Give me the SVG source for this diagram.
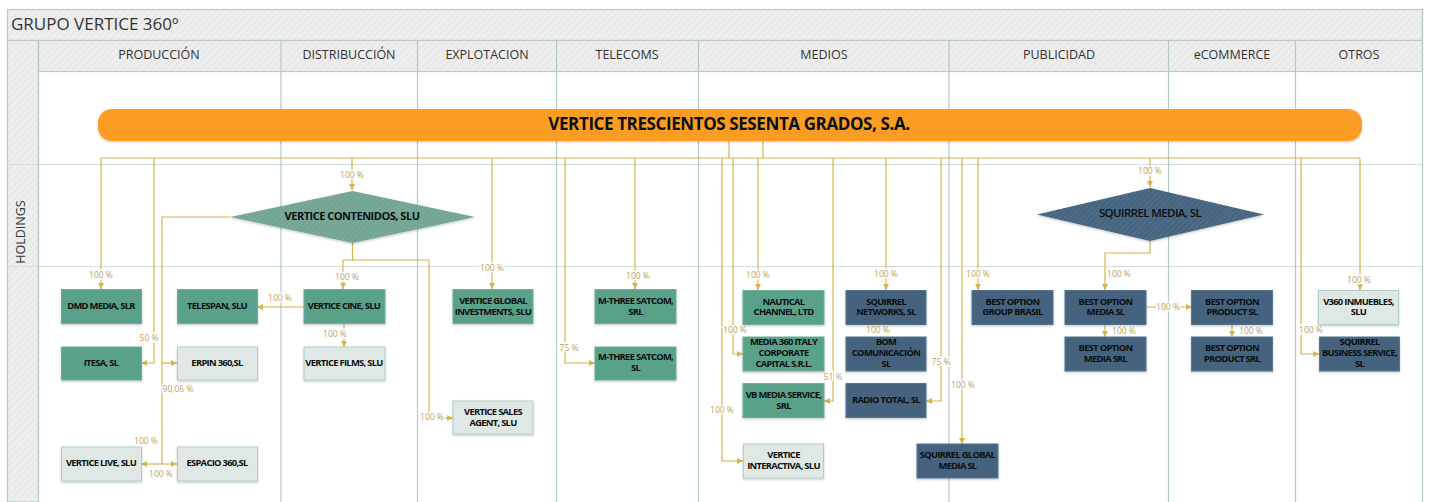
<svg xmlns="http://www.w3.org/2000/svg" width="1429" height="502" viewBox="0 0 1429 502">
<style>
text{font-family:"Open Sans","Noto Sans","Liberation Sans",sans-serif;text-anchor:middle}
.band{fill:url(#hatch);stroke:#b9cbc7;stroke-width:1.2}
.grid{stroke:#b4c8c4;stroke-width:1.2;fill:none}
.gridl{stroke:#d3dfdc;stroke-width:1.2;fill:none}
.head{font-size:12.5px;fill:#333}
.c{fill:none;stroke:#d4b44e;stroke-width:1.2}
.a{fill:none;stroke:#d4b44e;stroke-width:1.2;marker-end:url(#arr)}
.p{font-size:8.5px;fill:#b9a35c;stroke:#fff;stroke-width:3;paint-order:stroke}
.n{stroke-width:1;filter:url(#sh)}
.g{fill:#5aa18a;stroke:#6fae9a}
.b{fill:#44647f;stroke:#57748d}
.l{fill:#dfe8e4;stroke:#aed0c4}
.t{font-size:9.4px;font-weight:700;fill:#0a0f10;letter-spacing:-.7px}
</style>
<defs>
<pattern id="hatch" width="5" height="5" patternUnits="userSpaceOnUse" patternTransform="rotate(45)"><rect width="5" height="5" fill="#eeeeee"/><rect width="1.5" height="5" fill="#e6e6e6"/></pattern>
<pattern id="hg" width="4" height="4" patternUnits="userSpaceOnUse" patternTransform="rotate(45)"><rect width="4" height="4" fill="#7aa998"/><rect width="1.5" height="4" fill="#6fa391"/></pattern>
<pattern id="hb" width="4" height="4" patternUnits="userSpaceOnUse" patternTransform="rotate(45)"><rect width="4" height="4" fill="#4d6c87"/><rect width="1.5" height="4" fill="#44627c"/></pattern>
<marker id="arr" markerWidth="7" markerHeight="7" refX="6" refY="3" orient="auto" markerUnits="userSpaceOnUse"><path d="M0 0L6 3L0 6Z" fill="#d4b44e"/></marker>
<filter id="sh" x="-10%" y="-10%" width="120%" height="125%"><feDropShadow dx="0" dy="1.2" stdDeviation="1" flood-color="#000" flood-opacity=".22"/></filter>
</defs>
<rect width="1429" height="502" fill="#fff"/>
<g id="lanes">
<rect class="band" x="7.500" y="9.500" width="1415" height="31"/>
<rect class="band" x="7.500" y="40.500" width="31" height="461.500"/>
<rect class="band" x="38.500" y="40.500" width="1384" height="31"/>
<path class="gridl" d="M7.500 164.500H1423M7.500 266.500H1423"/>
<path class="grid" d="M38.500 40V502M281 40V502M417.500 40V502M556.500 40V502M698.500 40V502M949 40V502M1168.500 40V502M1295.500 40V502M1422.500 9V502"/>
<text x="11" y="30" style="font-size:17px;text-anchor:start;fill:#333">GRUPO VERTICE 360º</text>
<text class="head" x="159" y="59">PRODUCCIÓN</text>
<text class="head" x="349" y="59">DISTRIBUCCIÓN</text>
<text class="head" x="487" y="59">EXPLOTACION</text>
<text class="head" x="627" y="59">TELECOMS</text>
<text class="head" x="824" y="59">MEDIOS</text>
<text class="head" x="1059" y="59">PUBLICIDAD</text>
<text class="head" x="1232" y="59">eCOMMERCE</text>
<text class="head" x="1359" y="59">OTROS</text>
<text class="head" transform="translate(25 232) rotate(-90)">HOLDINGS</text>
</g>
<g id="connectors">
<path class="c" d="M101 158H1360M729 141V158M763 141V158"/>
<path class="a" d="M101 158V289"/>
<path class="a" d="M154 158V363H141"/>
<path class="c" d="M230 217H162V464"/>
<path class="a" d="M162 363H177"/>
<path class="a" d="M162 464H141"/>
<path class="a" d="M162 464H177"/>
<path class="a" d="M352 158V190"/>
<path class="c" d="M352.500 243V260H343"/>
<path class="a" d="M343 260V289"/>
<path class="a" d="M352.500 260H429V418H453"/>
<path class="a" d="M304 307H257"/>
<path class="a" d="M344 324V347"/>
<path class="a" d="M492 158V289"/>
<path class="a" d="M565 158V363H595"/>
<path class="a" d="M635 158V289"/>
<path class="a" d="M722 158V461H743"/>
<path class="a" d="M733 158V354H743"/>
<path class="a" d="M758 158V290"/>
<path class="a" d="M833 158V401H824"/>
<path class="a" d="M886 158V290"/>
<path class="a" d="M941 158V401H926"/>
<path class="a" d="M962 158V444"/>
<path class="a" d="M978 158V290"/>
<path class="a" d="M1150 158V187"/>
<path class="a" d="M1150 241V253H1105V290"/>
<path class="a" d="M1146 307H1192"/>
<path class="a" d="M1105 325V337"/>
<path class="a" d="M1232 325V337"/>
<path class="a" d="M1301 158V354H1319"/>
<path class="a" d="M1360 158V290"/>
<text class="p" x="101" y="278">100 %</text>
<text class="p" x="149" y="341">50 %</text>
<text class="p" x="178" y="392">90,06 %</text>
<text class="p" x="146" y="444">100 %</text>
<text class="p" x="161" y="477">100 %</text>
<text class="p" x="352" y="178">100 %</text>
<text class="p" x="347" y="280">100 %</text>
<text class="p" x="432" y="420">100 %</text>
<text class="p" x="280" y="301">100 %</text>
<text class="p" x="335" y="337">100 %</text>
<text class="p" x="492" y="271">100 %</text>
<text class="p" x="569" y="351">75 %</text>
<text class="p" x="638" y="279">100 %</text>
<text class="p" x="722" y="413">100 %</text>
<text class="p" x="735" y="333">100 %</text>
<text class="p" x="758" y="278">100 %</text>
<text class="p" x="833" y="380">51 %</text>
<text class="p" x="886" y="277">100 %</text>
<text class="p" x="878" y="333">100 %</text>
<text class="p" x="941" y="365">75 %</text>
<text class="p" x="963" y="388">100 %</text>
<text class="p" x="978" y="277">100 %</text>
<text class="p" x="1150" y="174">100 %</text>
<text class="p" x="1119" y="277">100 %</text>
<text class="p" x="1168" y="310">100 %</text>
<text class="p" x="1124" y="334">100 %</text>
<text class="p" x="1251" y="334">100 %</text>
<text class="p" x="1311" y="333">100 %</text>
<text class="p" x="1359" y="283">100 %</text>
</g>
<g id="n-vertice360"><rect x="98" y="109" width="1264" height="32" rx="14" fill="#fb9d20" filter="url(#sh)"/><text x="729" y="130" style="font-size:17px;font-weight:700;letter-spacing:-.4px;fill:#0a0f10">VERTICE TRESCIENTOS SESENTA GRADOS, S.A.</text></g>
<g id="n-contenidos"><path d="M230 217L352.500 191L475 217L352.500 243Z" fill="url(#hg)" filter="url(#sh)"/><text class="t" x="352" y="220" style="font-size:11px;letter-spacing:-.48px">VERTICE CONTENIDOS, SLU</text></g>
<g id="n-squirrel"><path d="M1037 214.500L1150 188L1264 214.500L1150 241Z" fill="url(#hb)" filter="url(#sh)"/><text class="t" x="1150" y="217" style="font-size:11.500px;font-weight:600;letter-spacing:-.6px">SQUIRREL MEDIA, SL</text></g>
<g id="n-dmd"><rect class="n g" x="61.500" y="289.500" width="80" height="34"/><text class="t" x="101" y="309">DMD MEDIA, SLR</text></g>
<g id="n-telespan"><rect class="n g" x="177.500" y="289.500" width="80" height="34"/><text class="t" x="217" y="309">TELESPAN, SLU</text></g>
<g id="n-itesa"><rect class="n g" x="61.500" y="347" width="80" height="33"/><text class="t" x="101" y="366">ITESA, SL</text></g>
<g id="n-erpin"><rect class="n l" x="177.500" y="347" width="80" height="33"/><text class="t" x="217" y="366">ERPIN 360,SL</text></g>
<g id="n-live"><rect class="n l" x="61.500" y="447" width="80" height="34"/><text class="t" x="101" y="466">VERTICE LIVE, SLU</text></g>
<g id="n-espacio"><rect class="n l" x="177.500" y="447" width="80" height="34"/><text class="t" x="217" y="466">ESPACIO 360,SL</text></g>
<g id="n-cine"><rect class="n g" x="304" y="289.500" width="81" height="34"/><text class="t" x="344" y="309">VERTICE CINE, SLU</text></g>
<g id="n-films"><rect class="n l" x="304" y="347" width="81" height="33"/><text class="t" x="344" y="366">VERTICE FILMS, SLU</text></g>
<g id="n-global"><rect class="n g" x="453" y="289.500" width="80" height="34"/><text class="t" x="493" y="304">VERTICE GLOBAL</text><text class="t" x="493" y="315">INVESTMENTS, SLU</text></g>
<g id="n-sales"><rect class="n l" x="453" y="401" width="80" height="33"/><text class="t" x="493" y="415">VERTICE SALES</text><text class="t" x="493" y="426">AGENT, SLU</text></g>
<g id="n-m3srl"><rect class="n g" x="595" y="289.500" width="81" height="34"/><text class="t" x="635.500" y="304">M-THREE SATCOM,</text><text class="t" x="635.500" y="315">SRL</text></g>
<g id="n-m3sl"><rect class="n g" x="595" y="347" width="81" height="33"/><text class="t" x="635.500" y="360">M-THREE SATCOM,</text><text class="t" x="635.500" y="371">SL</text></g>
<g id="n-nautical"><rect class="n g" x="743" y="290.500" width="81" height="34"/><text class="t" x="783.500" y="304.500">NAUTICAL</text><text class="t" x="783.500" y="315">CHANNEL, LTD</text></g>
<g id="n-media360"><rect class="n g" x="743" y="337" width="81" height="34"/><text class="t" x="783.500" y="345">MEDIA 360 ITALY</text><text class="t" x="783.500" y="356">CORPORATE</text><text class="t" x="783.500" y="367">CAPITAL S.R.L.</text></g>
<g id="n-vb"><rect class="n g" x="743" y="383.500" width="81" height="34"/><text class="t" x="783.500" y="398">VB MEDIA SERVICE,</text><text class="t" x="783.500" y="409">SRL</text></g>
<g id="n-interactiva"><rect class="n l" x="743.500" y="444" width="80" height="34"/><text class="t" x="783.500" y="458">VERTICE</text><text class="t" x="783.500" y="469">INTERACTIVA, SLU</text></g>
<g id="n-sqnet"><rect class="n b" x="846" y="290.500" width="80" height="34"/><text class="t" x="886" y="304.500">SQUIRREL</text><text class="t" x="886" y="315">NETWORKS, SL</text></g>
<g id="n-bom"><rect class="n b" x="846" y="337" width="80" height="34"/><text class="t" x="886" y="345">BOM</text><text class="t" x="886" y="356">COMUNICACIÓN</text><text class="t" x="886" y="367">SL</text></g>
<g id="n-radio"><rect class="n b" x="846" y="383.500" width="80" height="34"/><text class="t" x="886" y="403">RADIO TOTAL, SL</text></g>
<g id="n-sqglobal"><rect class="n b" x="917" y="444" width="81" height="34"/><text class="t" x="957.500" y="458">SQUIRREL GLOBAL</text><text class="t" x="957.500" y="469">MEDIA SL</text></g>
<g id="n-bobrasil"><rect class="n b" x="972" y="290.500" width="81" height="34"/><text class="t" x="1012.500" y="304.500">BEST OPTION</text><text class="t" x="1012.500" y="315">GROUP BRASIL</text></g>
<g id="n-bomedia"><rect class="n b" x="1065" y="290.500" width="81" height="34"/><text class="t" x="1105.500" y="304.500">BEST OPTION</text><text class="t" x="1105.500" y="315">MEDIA SL</text></g>
<g id="n-bomediasrl"><rect class="n b" x="1065" y="337" width="81" height="34"/><text class="t" x="1105.500" y="351">BEST OPTION</text><text class="t" x="1105.500" y="362">MEDIA SRL</text></g>
<g id="n-boproduct"><rect class="n b" x="1191.500" y="290.500" width="81" height="34"/><text class="t" x="1232" y="304.500">BEST OPTION</text><text class="t" x="1232" y="315">PRODUCT SL</text></g>
<g id="n-boproductsrl"><rect class="n b" x="1191.500" y="337" width="81" height="34"/><text class="t" x="1232" y="351">BEST OPTION</text><text class="t" x="1232" y="362">PRODUCT SRL</text></g>
<g id="n-v360"><rect class="n l" x="1318.500" y="290.500" width="80" height="34"/><text class="t" x="1358.500" y="304.500">V360 INMUEBLES,</text><text class="t" x="1358.500" y="315">SLU</text></g>
<g id="n-business"><rect class="n b" x="1319.500" y="337" width="80" height="34"/><text class="t" x="1359.500" y="345">SQUIRREL</text><text class="t" x="1359.500" y="356">BUSINESS SERVICE,</text><text class="t" x="1359.500" y="367">SL</text></g>
</svg>
